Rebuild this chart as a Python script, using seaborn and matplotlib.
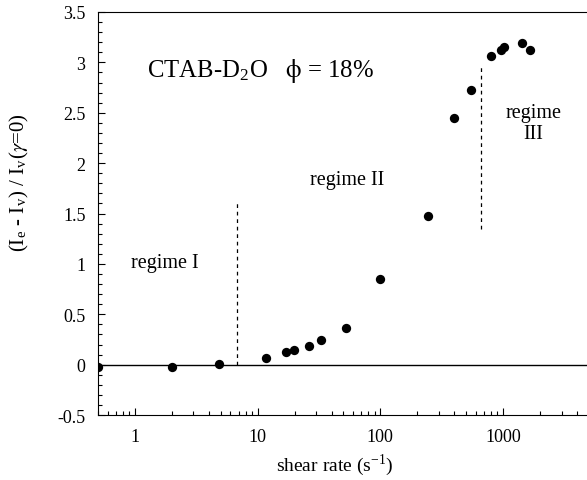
import numpy as np
import pandas as pd
import seaborn as sns
import matplotlib.pyplot as plt
from matplotlib.ticker import AutoMinorLocator, LogLocator, FixedLocator, FixedFormatter

# data
shear_rate = [0.5, 2.0, 4.8, 11.6, 17.0, 19.7, 26.1, 33.1, 52.9, 99.3,
              246, 398, 550, 796, 969, 1020, 1420, 1660]
intensity = [-0.02, -0.02, 0.01, 0.07, 0.13, 0.15, 0.19, 0.245, 0.36, 0.855,
             1.475, 2.45, 2.73, 3.065, 3.125, 3.15, 3.19, 3.125]

# regime boundaries (dashed lines)
boundary_x = [6.75, 660]
boundary_lo = [0.0, 1.35]
boundary_hi = [1.63, 2.96]

x_ticks = [1, 10, 100, 1000]
x_ticklabels = ['1', '10', '100', '1000']
y_ticks = [-0.5, 0, 0.5, 1, 1.5, 2, 2.5, 3, 3.5]
y_ticklabels = ['-0.5', '0', '0.5', '1', '1.5', '2', '2.5', '3', '3.5']

df = pd.DataFrame({'shear': shear_rate, 'I': intensity})

sns.set_style('white')
plt.rcParams['font.family'] = ['Liberation Serif', 'DejaVu Serif']
plt.rcParams['mathtext.fontset'] = 'stix'
plt.rcParams['text.color'] = 'black'
plt.rcParams['axes.labelcolor'] = 'black'

fig = plt.figure(figsize=(5.87, 4.81), dpi=100)
ax = fig.add_axes([0.167, 0.135, 0.836, 0.838])

ax.axhline(0, color='black', lw=1.0, zorder=1)
ax.vlines(boundary_x, boundary_lo, boundary_hi, colors='black',
          linestyles=(0, (3, 3)), lw=0.9)

sns.scatterplot(data=df, x='shear', y='I', ax=ax, color='black', s=45,
                edgecolor='black', linewidth=0, zorder=3)

ax.set_xscale('log')
ax.set_xlim(0.5, 5000)
ax.set_ylim(-0.5, 3.5)

ax.xaxis.set_major_locator(FixedLocator(x_ticks))
ax.xaxis.set_major_formatter(FixedFormatter(x_ticklabels))
ax.xaxis.set_minor_locator(LogLocator(base=10, subs=np.arange(2, 10)))
ax.xaxis.set_minor_formatter(FixedFormatter([]))
ax.yaxis.set_major_locator(FixedLocator(y_ticks))
ax.yaxis.set_major_formatter(FixedFormatter(y_ticklabels))
ax.yaxis.set_minor_locator(AutoMinorLocator(5))

ax.tick_params(which='both', direction='in', bottom=True, left=True,
               top=False, right=False, labelsize=13, colors='black', width=0.8)
ax.tick_params(which='major', length=5, pad=9)
ax.tick_params(which='minor', length=3)

for side in ['left', 'bottom', 'top']:
    ax.spines[side].set_visible(True)
    ax.spines[side].set_color('black')
    ax.spines[side].set_linewidth(0.8)
ax.spines['right'].set_visible(False)

ax.set_xlabel(r'shear rate (s$^{\mathregular{-1}}$)', fontsize=14)
ax.set_ylabel(r'(I$_{\mathregular{e}}$ - I$_{\mathregular{v}}$) / I$_{\mathregular{v}}$($\gamma$=0)',
              fontsize=15)
ax.xaxis.set_label_coords(0.483, -0.092)
ax.yaxis.set_label_coords(-0.136, 0.58)

ax.text(1.26, 2.92, r'CTAB-D$_{\mathregular{2}}$O   $\mathrm{\phi}$ = 18%',
        fontsize=17.8, va='center', ha='left')
ax.text(0.93, 1.01, 'regime I', fontsize=14.5, va='center', ha='left')
ax.text(54, 1.835, 'regime II', fontsize=14.5, va='center', ha='center')
ax.text(1760, 2.40, 'regime\nIII', fontsize=14.5, va='center', ha='center',
        linespacing=1.1)

plt.savefig('out.png', dpi=100)
